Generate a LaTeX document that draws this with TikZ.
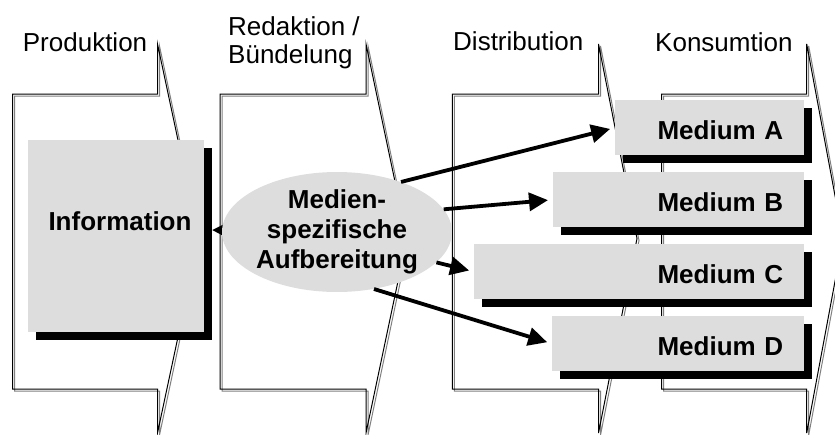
\documentclass[tikz,border=0pt]{standalone}
\usepackage{fontspec}
\setmainfont{Liberation Sans}
\usetikzlibrary{arrows.meta,shapes.geometric,shadows,backgrounds}

\definecolor{boxgray}{RGB}{221,221,221}
\definecolor{edgegray}{RGB}{128,128,128}

% outline of one value-chain stage: left edge, notch x, tip x
\newcommand{\stageoutline}[3]{%
  \draw[edgegray, line width=1pt, shift={(2,2)}]
    (#1,94) -- (#2,94) -- (#2,44) -- (#3,238.5) -- (#2,433) -- (#2,389) -- (#1,389) -- cycle;
  \draw[black, line width=1pt]
    (#1,94) -- (#2,94) -- (#2,44) -- (#3,238.5) -- (#2,433) -- (#2,389) -- (#1,389) -- cycle;
}

\tikzset{
  stagelabel/.style={font=\fontsize{26}{28}\selectfont, inner sep=0pt, anchor=base west},
  boldtext/.style={font=\fontsize{26}{30}\selectfont\bfseries},
  graybox/.style={fill=boxgray, draw=none, inner sep=0pt,
    drop shadow={shadow xshift=8pt, shadow yshift=-8pt, fill=black, opacity=1}},
  medbox/.style={graybox, boldtext, anchor=north west, minimum height=55pt,
    inner xsep=21pt, align=right, text height=23pt, text depth=0pt},
  flow/.style={line width=3.8pt, -{Triangle[length=19pt,width=18pt]}, shorten >=5pt},
}

\begin{document}
\begin{tikzpicture}[x=1pt, y=-1pt]
\useasboundingbox (0,0) rectangle (835,434);

% stage labels
\node[stagelabel] (lprod) at (22.7,51.7) {Produktion};
\node[stagelabel] (lred) at (228,35) {Redaktion /};
\node[stagelabel] (lbuen) at (228,63.3) {Bündelung};
\node[stagelabel] (ldist) at (453,50.5) {Distribution};
\node[stagelabel] (lkons) at (655,51.7) {Konsumtion};

% information source
\node[graybox, anchor=north west, minimum width=176pt, minimum height=192pt] (infobox) at (28,140) {};
\node[boldtext, anchor=base, inner sep=0pt] (infolabel) at (120,230) {Information};
\coordinate (infotip) at (212,230);

% media products
\node[medbox, text width=147pt] (mA) at (615,100) {Medium A};
\node[medbox, text width=209pt] (mB) at (553,172) {Medium B};
\node[medbox, text width=288pt] (mC) at (474,244) {Medium C};
\node[medbox, text width=210pt] (mD) at (552,316) {Medium D};

% media-specific preparation
\node[ellipse, fill=boxgray, inner sep=0pt, minimum width=230pt, minimum height=120pt,
      boldtext, align=center] (ell) at (337,232) {Medien-\\spezifische\\Aufbereitung};

% flows out of the preparation step
\draw[flow] (ell.38) -- (mA.west);
\draw[flow] (ell.12) -- (mB.west);
\draw[flow] (ell.-17) -- (mC.west);
\draw[flow] (ell.-57) -- (mD.west);

\begin{scope}[on background layer]
  \stageoutline{12.5}{157.5}{199}
  \stageoutline{220}{366}{407}
  \stageoutline{452.3}{598.5}{637}
  \stageoutline{661.7}{806.7}{843}
  \draw[flow, shorten >=0pt] (ell.center) -- (infotip);
\end{scope}
\end{tikzpicture}
\end{document}
